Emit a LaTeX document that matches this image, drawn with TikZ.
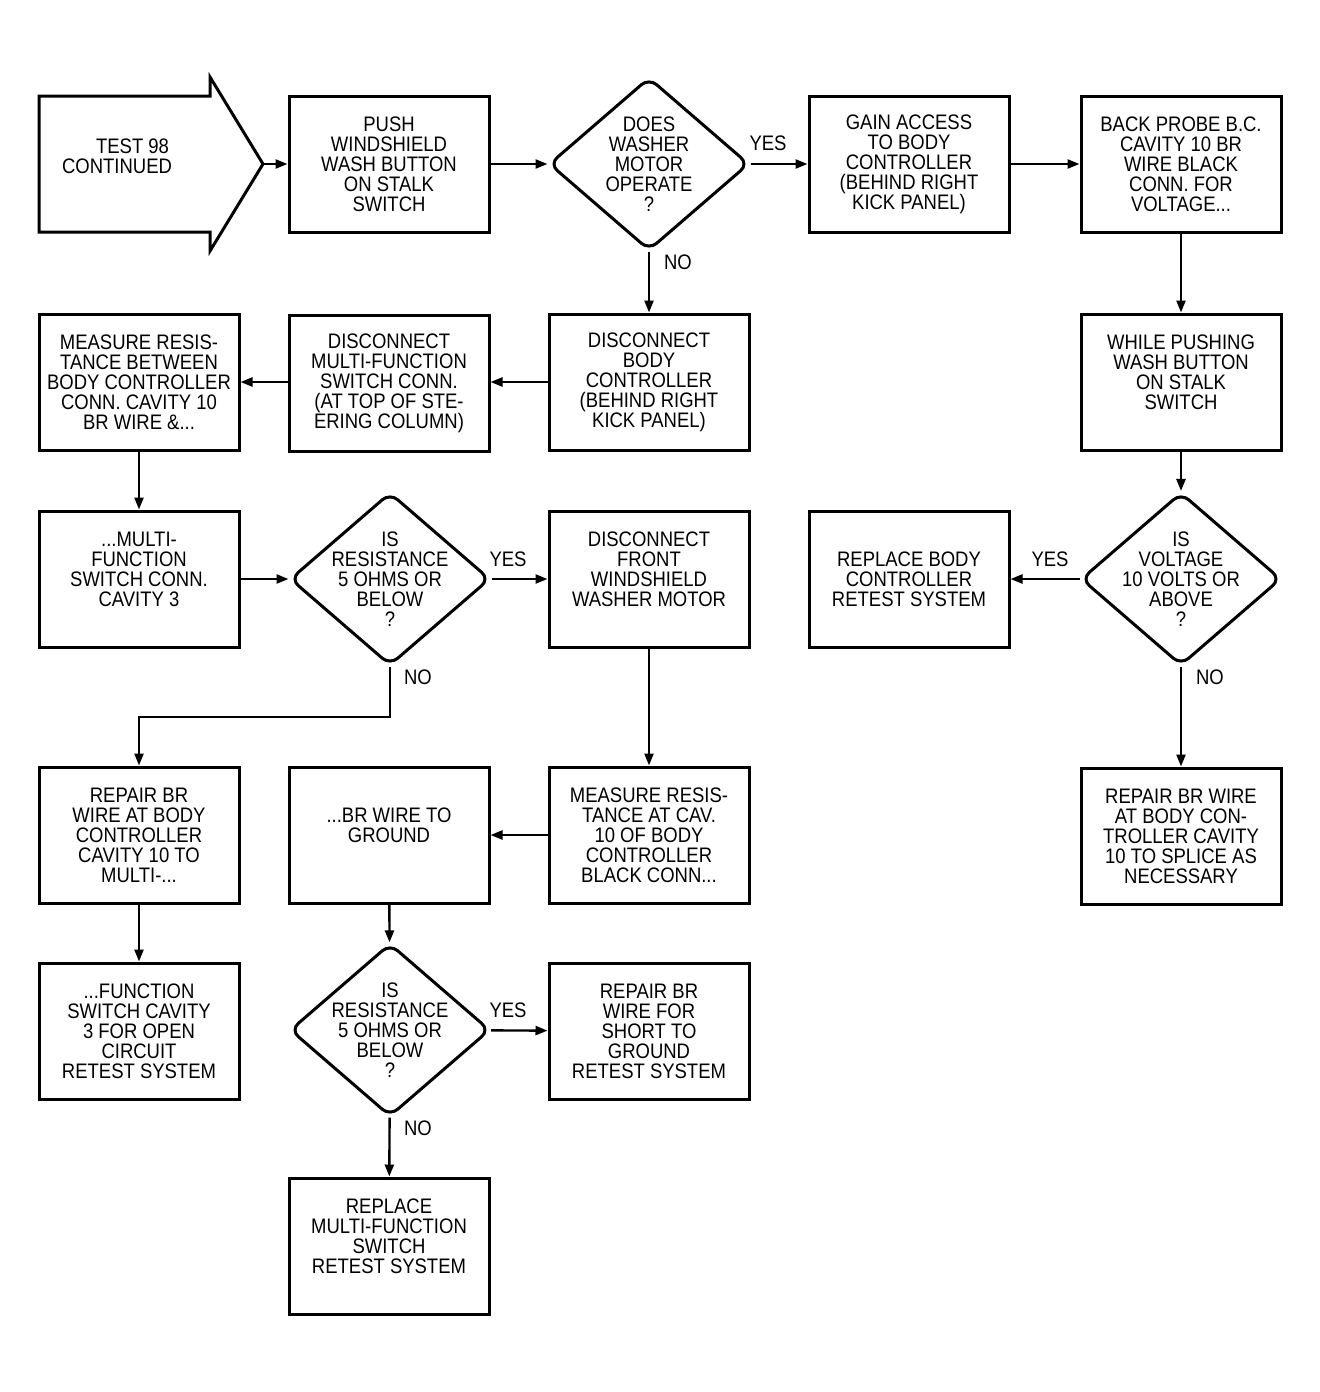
\documentclass[tikz,border=0pt]{standalone}
\usepackage{fontspec}
\setmainfont{Liberation Sans}[FakeStretch=0.88]
\usetikzlibrary{shapes.geometric,arrows.meta}

\newcommand{\plotfont}{\fontsize{10.5pt}{10pt}\selectfont}

\tikzset{every picture/.style={line width=0.75pt}}
\tikzset{
  box/.style={draw, line width=1.5pt, minimum width=100pt, minimum height=68pt, inner sep=0pt, align=center, font=\plotfont},
  dec/.style={diamond, draw, line width=1.5pt, minimum width=100pt, minimum height=86.5pt, inner sep=0pt, rounded corners=5pt},
  txt/.style={align=center, font=\plotfont, inner sep=0pt},
  flow/.style={line width=1.2pt, -{Triangle[length=6pt,width=4.5pt]}},
}

\begin{document}
\begin{tikzpicture}[x=0.5pt,y=0.5pt,yscale=-1,xscale=1]
	\useasboundingbox (0,0) rectangle (1320,1392);

	%Shape: Start arrow
	\draw [line width=1.5pt]  (39,96) -- (210,96) -- (210,77) -- (263,164) -- (210,251) -- (210,232) -- (39,232) -- cycle ;
	\coordinate (tip) at (263,164);
	% Text Node
	\node [txt, align=left] (start) at (117,166) {\hspace*{17pt}TEST 98\\CONTINUED\\\mbox{}};

	%Shape: Boxes, top row
	\node [box] (push) at (389,164) {PUSH\\WINDSHIELD\\WASH BUTTON\\ON STALK\\SWITCH};
	\node [dec] (dec1) at (649,164) {};
	\node [txt] (dec1t) at (649,164) {DOES\\WASHER\\MOTOR\\OPERATE\\?};
	\node [box] (gain) at (909,164) {GAIN ACCESS\\TO BODY\\CONTROLLER\\(BEHIND RIGHT\\KICK PANEL)};
	\node [box] (probe) at (1181,164) {BACK PROBE B.C.\\CAVITY 10 BR\\WIRE BLACK\\CONN. FOR\\VOLTAGE...};

	%Shape: Boxes, second row
	\node [box] (measure) at (139,382) {MEASURE RESIS-\\TANCE BETWEEN\\BODY CONTROLLER\\CONN. CAVITY 10\\BR WIRE \&...};
	\node [box] (discmulti) at (389,383) {DISCONNECT\\MULTI-FUNCTION\\SWITCH CONN.\\(AT TOP OF STE-\\ERING COLUMN)};
	\node [box] (discbody) at (649,382) {DISCONNECT\\BODY\\CONTROLLER\\(BEHIND RIGHT\\KICK PANEL)};
	\node [box] (while) at (1181,382) {WHILE PUSHING\\WASH BUTTON\\ON STALK\\SWITCH\\\mbox{}};

	%Shape: Boxes, third row
	\node [box] (multi) at (139,579) {...MULTI-\\FUNCTION\\SWITCH CONN.\\CAVITY 3\\\mbox{}};
	\node [dec] (dec2) at (390,579) {};
	\node [txt] (dec2t) at (390,579) {IS\\RESISTANCE\\5 OHMS OR\\BELOW\\?};
	\node [box] (discfront) at (649,579) {DISCONNECT\\FRONT\\WINDSHIELD\\WASHER MOTOR\\\mbox{}};
	\node [box] (replbody) at (909,579) {REPLACE BODY\\CONTROLLER\\RETEST SYSTEM};
	\node [dec] (dec4) at (1181,579) {};
	\node [txt] (dec4t) at (1181,579) {IS\\VOLTAGE\\10 VOLTS OR\\ABOVE\\?};

	%Shape: Boxes, fourth row
	\node [box] (repairl) at (139,835) {REPAIR BR\\WIRE AT BODY\\CONTROLLER\\CAVITY 10 TO\\MULTI-...};
	\node [box] (ground) at (389,835) {...BR WIRE TO\\GROUND\\\mbox{}};
	\node [box] (measure2) at (649,835) {MEASURE RESIS-\\TANCE AT CAV.\\10 OF BODY\\CONTROLLER\\BLACK CONN...};
	\node [box] (repairr) at (1181,836) {REPAIR BR WIRE\\AT BODY CON-\\TROLLER CAVITY\\10 TO SPLICE AS\\NECESSARY};

	%Shape: Boxes, fifth and sixth row
	\node [box] (function) at (139,1031) {...FUNCTION\\SWITCH CAVITY\\3 FOR OPEN\\CIRCUIT\\RETEST SYSTEM};
	\node [dec] (dec3) at (390,1030) {};
	\node [txt] (dec3t) at (390,1030) {IS\\RESISTANCE\\5 OHMS OR\\BELOW\\?};
	\node [box] (short) at (649,1031) {REPAIR BR\\WIRE FOR\\SHORT TO\\GROUND\\RETEST SYSTEM};
	\node [box] (replmulti) at (389,1246) {REPLACE\\MULTI-FUNCTION\\SWITCH\\RETEST SYSTEM\\\mbox{}};

	%Straight Lines
	\draw [flow] (tip) -- (push.west) ;
	\draw [flow] (push) -- (dec1) ;
	\draw [flow] (dec1) -- (gain) ;
	\draw [flow] (gain) -- (probe) ;
	\draw [flow] (probe) -- (while) ;
	\draw [flow] (while) -- (dec4) ;
	\draw [flow] (dec4) -- (replbody) ;
	\draw [flow] (dec4) -- (repairr) ;
	\draw [flow] (dec1) -- (discbody) ;
	\draw [flow] (discbody) -- (discmulti.east |- discbody) ;
	\draw [flow] (discmulti.west |- discbody) -- (measure) ;
	\draw [flow] (measure) -- (multi) ;
	\draw [flow] (multi) -- (dec2) ;
	\draw [flow] (dec2) -- (discfront) ;
	\draw [flow] (dec2.south) -- ++(0,50) -| (repairl.north) ;
	\draw [flow] (repairl) -- (function) ;
	\draw [flow] (discfront) -- (measure2) ;
	\draw [flow] (measure2) -- (ground) ;
	\draw [flow] (ground) -- (dec3) ;
	\draw [flow] (dec3) -- (short) ;
	\draw [flow] (dec3) -- (replmulti) ;

	% Text Node
	\node [txt] (yes1) at (768,143) {YES};
	\node [txt] (no1) at (678,262) {NO};
	\node [txt] (yes2) at (508,559) {YES};
	\node [txt] (no2) at (418,677) {NO};
	\node [txt] (yes3) at (508,1010) {YES};
	\node [txt] (no3) at (418,1128) {NO};
	\node [txt] (yes4) at (1050,559) {YES};
	\node [txt] (no4) at (1210,677) {NO};

\end{tikzpicture}
\end{document}
